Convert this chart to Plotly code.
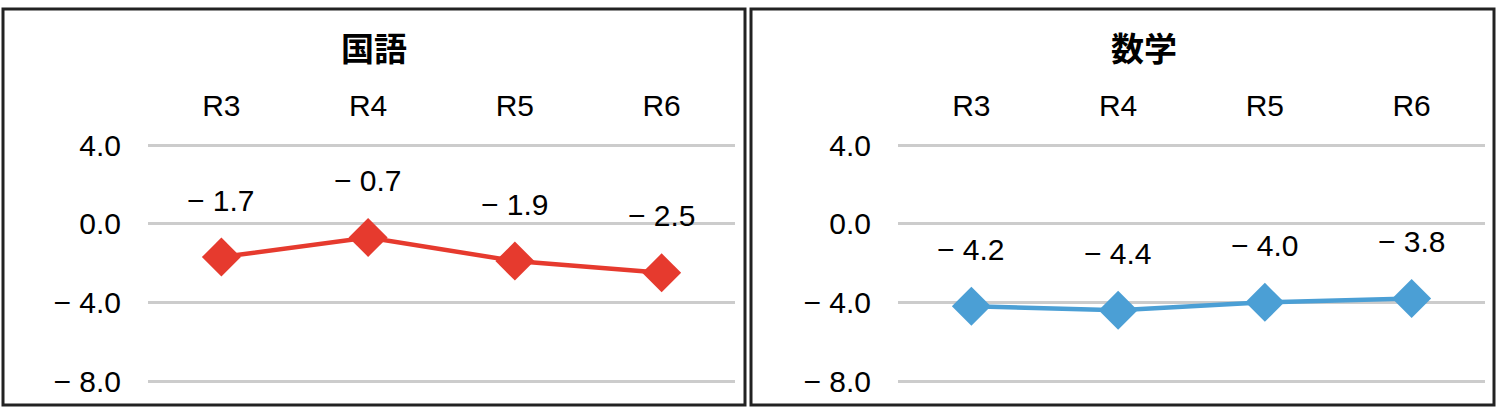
import plotly.graph_objects as go

categories = ["R3", "R4", "R5", "R6"]
kokugo = [-1.7, -0.7, -1.9, -2.5]
sugaku = [-4.2, -4.4, -4.0, -3.8]
titles = ["国語", "数学"]
y_tickvals = [4.0, 0.0, -4.0, -8.0]
y_ticktext = ["4.0", "0.0", "− 4.0", "− 8.0"]

def fmt(v):
    return ("− " if v < 0 else "") + f"{abs(v):.1f}"

W, H = 1500, 416
NUM_FONT = "Liberation Sans"
CJK_FONT = "Noto Sans CJK JP"
TXT = "#000000"

# y range slightly beyond the outer gridlines so they are drawn
Y_LO, Y_HI = -8.3, 4.3
PX_PER_UNIT = (381 - 145) / 12.0
top_px = 145 - (Y_HI - 4.0) * PX_PER_UNIT
bot_px = 381 + (-8.0 - Y_LO) * PX_PER_UNIT
ydom = [(H - bot_px) / H, (H - top_px) / H]

fig = go.Figure()

panels = [
    dict(vals=kokugo, color="#e63a2e", xa="x", ya="y", title_x=374),
    dict(vals=sugaku, color="#4b9fd5", xa="x2", ya="y2", title_x=1144),
]

for i, p in enumerate(panels):
    fig.add_trace(go.Scatter(
        x=categories, y=p["vals"], mode="lines+markers",
        line=dict(color=p["color"], width=4.5),
        marker=dict(symbol="diamond", size=30, color=p["color"]),
        xaxis=p["xa"], yaxis=p["ya"], showlegend=False, hoverinfo="skip",
        cliponaxis=False,
    ))
    for c, v in zip(categories, p["vals"]):
        fig.add_annotation(
            x=c, y=v, xref=p["xa"], yref=p["ya"], text=fmt(v),
            showarrow=False, yshift=57,
            font=dict(family=NUM_FONT, size=30, color=TXT),
        )
    fig.add_annotation(
        x=p["title_x"] / W, y=(H - 47) / H, xref="paper", yref="paper",
        text="<b>" + titles[i] + "</b>", showarrow=False,
        font=dict(family=CJK_FONT, size=33, color=TXT),
        xanchor="center", yanchor="middle",
    )

axis_common_x = dict(
    type="category", side="top", showgrid=False, zeroline=False, showline=False,
    ticks="", ticklabelstandoff=16, automargin=False,
    tickfont=dict(family=NUM_FONT, size=30, color=TXT),
    range=[-0.5, 3.5],
)
axis_common_y = dict(
    range=[Y_LO, Y_HI], tickvals=y_tickvals, ticktext=y_ticktext,
    showgrid=True, gridcolor="#cccccc", gridwidth=3, zeroline=False, showline=False,
    ticks="", ticklabelstandoff=26, automargin=False,
    tickfont=dict(family=NUM_FONT, size=30, color=TXT),
)

fig.update_layout(
    width=W, height=H, autosize=False,
    margin=dict(l=0, r=0, t=0, b=0, pad=0, autoexpand=False),
    paper_bgcolor="white", plot_bgcolor="white",
    xaxis=dict(domain=[148 / W, 735 / W], anchor="y", **axis_common_x),
    yaxis=dict(domain=ydom, anchor="x", **axis_common_y),
    xaxis2=dict(domain=[898 / W, 1485 / W], anchor="y2", **axis_common_x),
    yaxis2=dict(domain=ydom, anchor="x2", **axis_common_y),
    shapes=[
        dict(type="rect", xref="paper", yref="paper",
             x0=3 / W, x1=745 / W, y0=(H - 405) / H, y1=(H - 9) / H,
             line=dict(color="#222222", width=3)),
        dict(type="rect", xref="paper", yref="paper",
             x0=751 / W, x1=1494 / W, y0=(H - 405) / H, y1=(H - 9) / H,
             line=dict(color="#222222", width=3)),
    ],
)

fig.write_html("out.html")
